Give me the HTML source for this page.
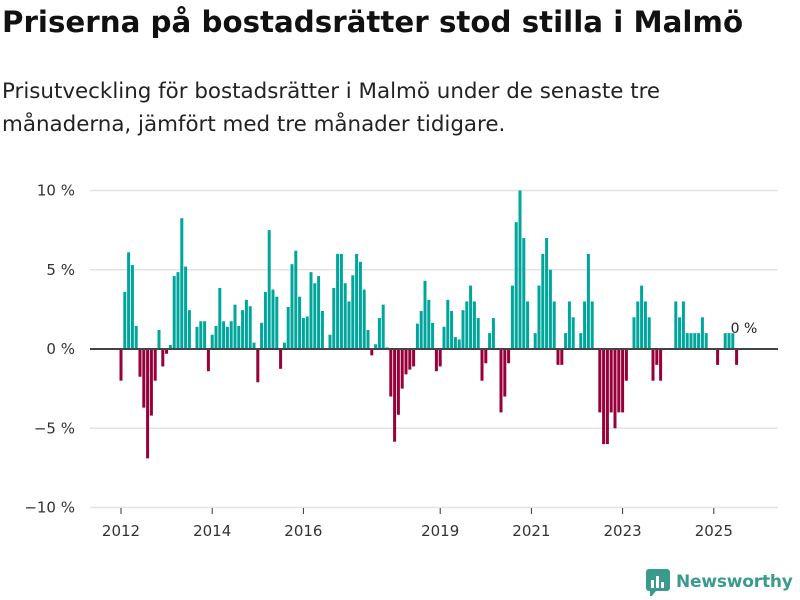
<!DOCTYPE html>
<html><head><meta charset="utf-8"><style>
body{margin:0;width:800px;height:600px;background:#fff;font-family:"DejaVu Sans","Liberation Sans",sans-serif;overflow:hidden;position:relative}
#title{position:absolute;left:2px;top:5px;font-size:29.3px;font-weight:bold;color:#111;margin:0;white-space:nowrap}
#sub{position:absolute;left:2px;top:75px;font-size:21.4px;color:#222;line-height:33px;width:720px}
#logo{position:absolute;left:645px;top:568px;display:flex;align-items:center}
</style></head><body>
<h1 id="title">Priserna på bostadsrätter stod stilla i Malmö</h1>
<div id="sub">Prisutveckling för bostadsrätter i Malmö under de senaste tre månaderna, jämfört med tre månader tidigare.</div>
<svg id="chart" width="800" height="600" style="position:absolute;left:0;top:0"></svg>
<div id="logo">
<svg width="26" height="28"><rect x="1" y="1" width="24" height="22" rx="3" fill="#3a9a8c"/><path d="M5 23 L5 30 L11 23Z" fill="#3a9a8c"/><rect x="6" y="12" width="3" height="8" fill="#fff"/><rect x="11" y="8" width="3" height="12" fill="#fff"/><rect x="16" y="14" width="3" height="6" fill="#fff"/></svg>
<span style="font-size:17px;letter-spacing:-0.2px;font-weight:bold;color:#3a9a8c;margin-left:5px">Newsworthy</span>
</div>
<script>
const values=[-2,3.6,6.1,5.3,1.45,-1.75,-3.7,-6.9,-4.2,-2,1.2,-1.1,-0.3,0.25,4.6,4.85,8.25,5.2,2.45,0,1.4,1.75,1.75,-1.4,0.9,1.45,3.85,1.75,1.4,1.75,2.8,1.45,2.45,3.1,2.7,0.4,-2.1,1.65,3.6,7.5,3.75,3.3,-1.25,0.4,2.65,5.35,6.2,3.3,1.95,2.05,4.85,4.15,4.6,2.4,0,0.9,3.85,6,6,4.15,3,4.65,6,5.5,3.75,1.2,-0.4,0.3,1.95,2.8,0.1,-3,-5.85,-4.15,-2.5,-1.6,-1.3,-1.1,1.6,2.4,4.3,3.1,1.65,-1.4,-1.1,1.4,3.1,2.4,0.75,0.6,2.45,3,4,3,1.95,-2,-0.9,1,1.95,0,-4,-3,-0.9,4,8,10,7,3,0,1,4,6,7,5,3,-1,-1,1,3,2,0,1,3,6,3,0,-4,-6,-6,-4,-5,-4,-4,-2,0,2,3,4,3,2,-2,-1,-2,0,0,0,3,2,3,1,1,1,1,2,1,0,0,-1,0,1,1,1,-1];
const yTicks=[10,5,0,-5,-10];
const yTickLabels=["10 %","5 %","0 %","−5 %","−10 %"];
const xYears=[2012,2014,2016,2019,2021,2023,2025];
const lastLabel="0 %";
const NS="http://www.w3.org/2000/svg",svg=document.getElementById('chart');
const y=v=>349-v*15.85;
const xm=i=>121+i*3.8;
const xy=yr=>xm((yr-2012)*12);
function mk(t,a){const e=document.createElementNS(NS,t);for(const k in a)e.setAttribute(k,a[k]);svg.appendChild(e);return e;}
yTicks.forEach((t,k)=>{
 if(t!==0){const g=mk('line',{x1:90,x2:778,y1:y(t),y2:y(t),stroke:'#e3e3e3','stroke-width':1.5});
 
 }
 const l=mk('text',{x:75,y:y(t)+5,'text-anchor':'end','font-size':15,fill:'#333','font-family':'DejaVu Sans,Liberation Sans,sans-serif'});
 l.textContent=yTickLabels[k];
 
 
});
values.forEach((v,i)=>{
 const r=mk('rect',{x:xm(i)-1.5,width:3,y:Math.min(y(v),349),height:Math.abs(y(v)-349),fill:v>=0?'#00a59b':'#98003b'});
 
 
});
const z=mk('line',{x1:90,x2:778,y1:349,y2:349,stroke:'#444','stroke-width':2});


xYears.forEach(yr=>{
 const t=mk('line',{x1:xy(yr),x2:xy(yr),y1:508,y2:514,stroke:'#333','stroke-width':1});
 
 
 const l=mk('text',{x:xy(yr),y:536,'text-anchor':'middle','font-size':15,fill:'#333','font-family':'DejaVu Sans,Liberation Sans,sans-serif'});
 l.textContent=yr;
 
 
});
const ll=mk('text',{x:xm(values.length-1)-6,y:y(values[values.length-1]>0?values[values.length-1]:0)-16,'font-size':14,fill:'#222','font-family':'DejaVu Sans,Liberation Sans,sans-serif'});
ll.textContent=lastLabel;


</script>
</body></html>
